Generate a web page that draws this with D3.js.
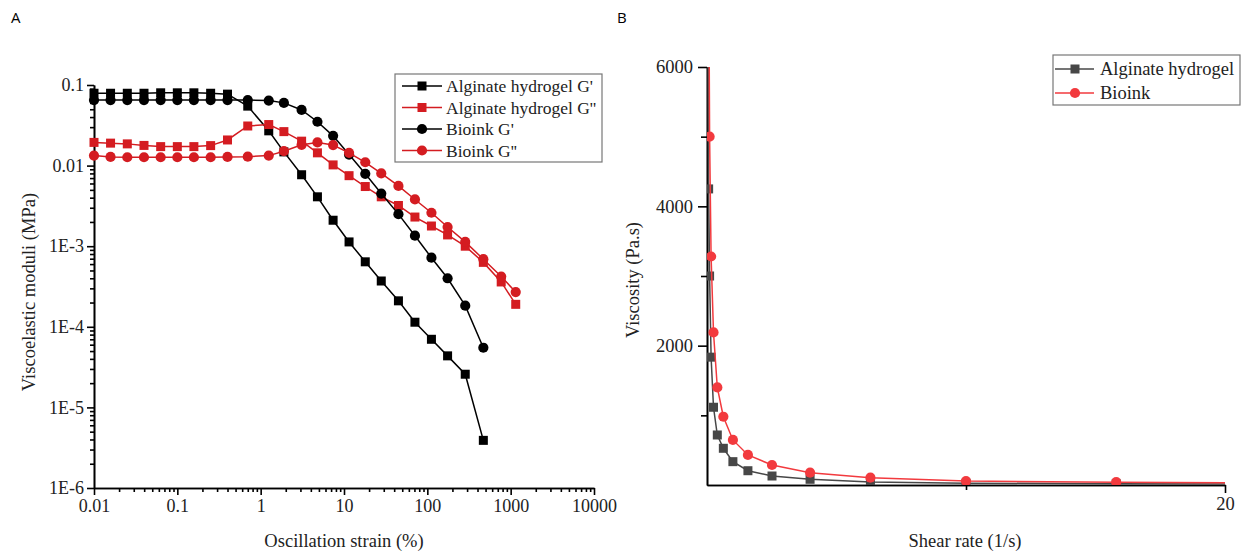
<!DOCTYPE html>
<html lang="en">
<head>
    <meta charset="UTF-8">
    <script src="https://d3js.org/d3.v7.min.js"></script>
    <style>
        body {
            margin: 0;
            background: #fff;
        }

        .axis text {
            font-family: "Liberation Serif", serif;
            font-size: 18px;
            fill: #222;
        }

        .axis path, .axis line {
            stroke: #000;
            stroke-width: 1.6;
        }

        .title {
            font-family: "Liberation Serif", serif;
            font-size: 18.5px;
            fill: #222;
        }

        .legend text {
            font-family: "Liberation Serif", serif;
            fill: #222;
        }
    </style>
    <title>Rheology</title>
</head>
<body>
<svg id="chart" width="1244" height="552"></svg>
<script>
    // panel A : amplitude sweep
    var strainA = [0.01, 0.0158, 0.0251, 0.0398, 0.0631, 0.1, 0.158, 0.251, 0.4, 0.7, 1.25, 1.9, 3.1, 4.8,
        7.4, 11.5, 18, 28, 45, 71, 112, 175, 285, 470, 770, 1150]
    var alginateGp = [0.079, 0.079, 0.079, 0.079, 0.080, 0.080, 0.080, 0.079, 0.077, 0.0547, 0.027, 0.0148,
        0.0077, 0.0041, 0.0021, 0.00113, 0.00064, 0.00037, 0.00021, 0.000114, 0.000070, 0.0000436, 0.0000258, 0.0000039]
    var alginateGpp = [0.0194, 0.019, 0.0186, 0.0178, 0.0172, 0.0172, 0.0172, 0.0177, 0.0208, 0.031, 0.0323,
        0.0264, 0.0201, 0.0144, 0.0102, 0.0075, 0.0055, 0.0041, 0.0032, 0.0023, 0.00178, 0.00138, 0.00100,
        0.00063, 0.00036, 0.00019]
    var bioinkGp = [0.065, 0.065, 0.065, 0.065, 0.065, 0.065, 0.065, 0.065, 0.065, 0.065, 0.064, 0.06, 0.049,
        0.035, 0.0234, 0.0137, 0.0079, 0.0045, 0.0025, 0.00135, 0.00072, 0.00040, 0.000183, 0.000055]
    var bioinkGpp = [0.0133, 0.0128, 0.0127, 0.0127, 0.0127, 0.0127, 0.0127, 0.0127, 0.0128, 0.0129, 0.0133,
        0.0151, 0.0181, 0.0194, 0.018, 0.0144, 0.0110, 0.0080, 0.0056, 0.0038, 0.0026, 0.00173, 0.00113,
        0.00069, 0.00042, 0.00027]
    var xTicksA = [0.01, 0.1, 1, 10, 100, 1000, 10000]
    var xTickLabelsA = ["0.01", "0.1", "1", "10", "100", "1000", "10000"]
    var yTicksA = [1e-6, 1e-5, 1e-4, 1e-3, 0.01, 0.1]
    var yTickLabelsA = ["1E-6", "1E-5", "1E-4", "1E-3", "0.01", "0.1"]
    var legendA = ["Alginate hydrogel G'", "Alginate hydrogel G''", "Bioink G'", "Bioink G''"]

    // panel B : flow curve
    var shearRate = [0.0398, 0.0631, 0.1, 0.158, 0.251, 0.398, 0.631, 1, 1.58, 2.51, 3.98, 6.31, 10, 15.8, 25.1]
    var alginateVisc = [6600, 4250, 3000, 1835, 1116, 718, 527, 335, 205, 129, 82, 42, 26, 18, 11]
    var bioinkVisc = [11000, 7800, 5000, 3280, 2190, 1400, 980, 647, 431, 287, 177, 105, 57, 40, 22]
    var yTicksB = [2000, 4000, 6000]
    var yTickLabelsB = ["2000", "4000", "6000"]
    var yMinorB = [1000, 3000, 5000]
    var xTicksB = [20]
    var xTickLabelsB = ["20"]
    var xMinorB = [10]
    var legendB = ["Alginate hydrogel", "Bioink"]

    var svg = d3.select("#chart")

    function panelLabel(txt, x, y) {
        svg.append("text").attr("x", x).attr("y", y)
            .style("font-family", "'Open Sans', sans-serif").style("font-size", "15px")
            .text(txt)
    }

    panelLabel("A", 11, 23)
    panelLabel("B", 617, 23)

    // ---------- A ----------
    var xA = d3.scaleLog().domain([0.01, 10000]).range([94, 594])
    var yA = d3.scaleLog().domain([1e-6, 0.1]).range([488, 85])

    function minorLog(lo, hi) {
        var out = []
        for (var e = lo; e < hi; e++) {
            for (var m = 2; m <= 9; m++) out.push(m * Math.pow(10, e))
        }
        return out
    }

    var gA = svg.append("g")

    gA.append("g").attr("class", "axis")
        .attr("transform", "translate(0,488)")
        .call(d3.axisBottom(xA).tickValues(minorLog(-2, 4)).tickFormat("").tickSize(4).tickSizeOuter(0))
    gA.append("g").attr("class", "axis")
        .attr("transform", "translate(0,488)")
        .call(d3.axisBottom(xA).tickValues(xTicksA).tickSize(7).tickSizeOuter(0).tickPadding(4)
            .tickFormat(function (d, i) { return xTickLabelsA[i] }))

    gA.append("g").attr("class", "axis")
        .attr("transform", "translate(94,0)")
        .call(d3.axisLeft(yA).tickValues(minorLog(-6, -1)).tickFormat("").tickSize(4).tickSizeOuter(0))
    gA.append("g").attr("class", "axis")
        .attr("transform", "translate(94,0)")
        .call(d3.axisLeft(yA).tickValues(yTicksA).tickSize(7).tickSizeOuter(0).tickPadding(3)
            .tickFormat(function (d, i) { return yTickLabelsA[i] }))
    gA.selectAll(".axis .domain").attr("stroke", "#000")

    gA.append("text").attr("class", "title")
        .attr("x", 344).attr("y", 547).attr("text-anchor", "middle")
        .text("Oscillation strain (%)")
    gA.append("text").attr("class", "title")
        .attr("transform", "translate(35,292) rotate(-90)").attr("text-anchor", "middle")
        .text("Viscoelastic moduli (MPa)")

    var seriesA = [
        {name: legendA[0], vals: alginateGp, color: "#000", shape: "square"},
        {name: legendA[1], vals: alginateGpp, color: "#d41c21", shape: "square"},
        {name: legendA[2], vals: bioinkGp, color: "#000", shape: "circle"},
        {name: legendA[3], vals: bioinkGpp, color: "#d41c21", shape: "circle"}
    ]

    function drawMarker(g, shape, color, x, y, size) {
        if (shape == "square") {
            g.append("rect").attr("x", x - size / 2).attr("y", y - size / 2)
                .attr("width", size).attr("height", size).attr("fill", color)
        } else {
            g.append("circle").attr("cx", x).attr("cy", y).attr("r", size / 2 + 0.6).attr("fill", color)
        }
    }

    var lineA = d3.line()
        .x(function (d) { return xA(d[0]) })
        .y(function (d) { return yA(d[1]) })

    seriesA.forEach(function (s) {
        var pts = s.vals.map(function (v, i) { return [strainA[i], v] })
        var g = gA.append("g")
        g.append("path").attr("d", lineA(pts)).attr("fill", "none")
            .attr("stroke", s.color).attr("stroke-width", 1.5)
        pts.forEach(function (p) {
            drawMarker(g, s.shape, s.color, xA(p[0]), yA(p[1]), 9)
        })
    })

    // legend A
    var lgA = gA.append("g").attr("class", "legend")
    lgA.append("rect").attr("x", 395).attr("y", 74).attr("width", 207).attr("height", 88)
        .attr("fill", "#fff").attr("stroke", "#777").attr("stroke-width", 1.2)
    seriesA.forEach(function (s, i) {
        var y = 86 + i * 21.5
        lgA.append("line").attr("x1", 402).attr("x2", 442).attr("y1", y).attr("y2", y)
            .attr("stroke", s.color).attr("stroke-width", 1.5)
        drawMarker(lgA, s.shape, s.color, 422, y, 9)
        lgA.append("text").attr("x", 446).attr("y", y + 6).style("font-size", "17.5px").text(s.name)
    })

    // ---------- B ----------
    var xB = d3.scaleLinear().domain([0, 20]).range([707, 1225])
    var yB = d3.scaleLinear().domain([0, 6000]).range([485, 67])
    var gB = svg.append("g")

    svg.append("clipPath").attr("id", "clipB").append("rect")
        .attr("x", 707).attr("y", 67).attr("width", 518).attr("height", 418)

    gB.append("g").attr("class", "axis")
        .attr("transform", "translate(0,485)")
        .call(d3.axisBottom(xB).tickValues(xMinorB).tickFormat("").tickSize(5).tickSizeOuter(0))
    gB.append("g").attr("class", "axis")
        .attr("transform", "translate(0,485)")
        .call(d3.axisBottom(xB).tickValues(xTicksB).tickSize(8).tickSizeOuter(0).tickPadding(4)
            .tickFormat(function (d, i) { return xTickLabelsB[i] }))
    gB.append("g").attr("class", "axis")
        .attr("transform", "translate(707,0)")
        .call(d3.axisLeft(yB).tickValues(yMinorB).tickFormat("").tickSize(6).tickSizeOuter(0))
    gB.append("g").attr("class", "axis")
        .attr("transform", "translate(707,0)")
        .call(d3.axisLeft(yB).tickValues(yTicksB).tickSize(9).tickSizeOuter(0).tickPadding(5)
            .tickFormat(function (d, i) { return yTickLabelsB[i] }))
    gB.selectAll(".axis text").style("font-size", "18.5px")

    gB.append("text").attr("class", "title")
        .attr("x", 965).attr("y", 547).attr("text-anchor", "middle")
        .text("Shear rate (1/s)")
    gB.append("text").attr("class", "title")
        .attr("transform", "translate(639,280) rotate(-90)").attr("text-anchor", "middle")
        .text("Viscosity (Pa.s)")

    var seriesB = [
        {name: legendB[0], vals: alginateVisc, color: "#474747", shape: "square"},
        {name: legendB[1], vals: bioinkVisc, color: "#f23a3e", shape: "circle"}
    ]

    var lineB = d3.line()
        .x(function (d) { return xB(d[0]) })
        .y(function (d) { return yB(d[1]) })

    seriesB.forEach(function (s) {
        var pts = s.vals.map(function (v, i) { return [shearRate[i], v] })
        var g = gB.append("g").attr("clip-path", "url(#clipB)")
        g.append("path").attr("d", lineB(pts)).attr("fill", "none")
            .attr("stroke", s.color).attr("stroke-width", 1.5)
        pts.forEach(function (p) {
            drawMarker(g, s.shape, s.color, xB(p[0]), yB(p[1]), 9)
        })
    })

    // legend B
    var lgB = gB.append("g").attr("class", "legend")
    lgB.append("rect").attr("x", 1053).attr("y", 55).attr("width", 187).attr("height", 50)
        .attr("fill", "#fff").attr("stroke", "#777").attr("stroke-width", 1.2)
    seriesB.forEach(function (s, i) {
        var y = 69 + i * 24
        lgB.append("line").attr("x1", 1055).attr("x2", 1094).attr("y1", y).attr("y2", y)
            .attr("stroke", s.color).attr("stroke-width", 1.5)
        drawMarker(lgB, s.shape, s.color, 1075, y, 9)
        lgB.append("text").attr("x", 1100).attr("y", y + 6).style("font-size", "18.5px").text(s.name)
    })
</script>
</body>
</html>
